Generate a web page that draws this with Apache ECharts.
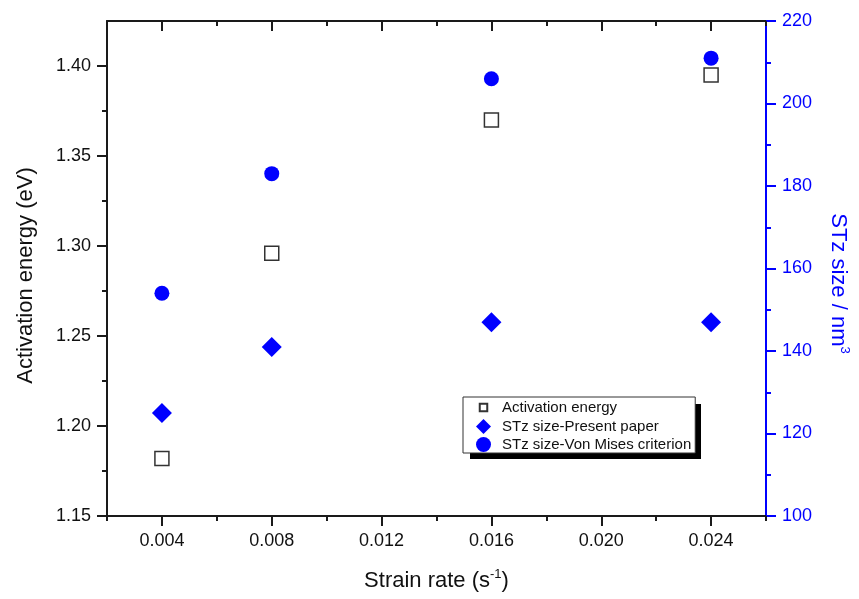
<!DOCTYPE html>
<html>
<head>
<meta charset="utf-8">
<script src="https://cdn.jsdelivr.net/npm/echarts@6/dist/echarts.min.js"></script>
<style>html,body{margin:0;padding:0;background:#fff}#c{width:859px;height:599px}</style>
</head>
<body>
<div id="c"></div>
<script>
// ---- data ----
const strainRate = [0.004, 0.008, 0.016, 0.024];
const activationEnergy = [1.182, 1.296, 1.370, 1.395];
const stzPresent = [125, 141, 147, 147];
const stzVonMises = [154, 183, 206, 211];
const xMajorTicks = [0.004, 0.008, 0.012, 0.016, 0.020, 0.024];
const xMinorTicks = [0.002, 0.006, 0.010, 0.014, 0.018, 0.022, 0.026];
const yLeftMajorTicks = [1.15, 1.20, 1.25, 1.30, 1.35, 1.40];
const yLeftMinorTicks = [1.175, 1.225, 1.275, 1.325, 1.375];
const seriesNames = ['Activation energy', 'STz size-Present paper', 'STz size-Von Mises criterion'];

const FONT = '"Liberation Sans", Arial, sans-serif';
const BLUE = '#0000ff';
const BLACK = '#1a1a1a';

function pairs(xs, ys) { return xs.map((x, i) => [x, ys[i]]); }

const chart = echarts.init(document.getElementById('c'), null, {renderer: 'canvas'});

const baseX = {
  type: 'value', gridIndex: 0, min: 0.002, max: 0.026, interval: 0.002,
  splitLine: {show: false}
};
const squareIcon = 'path://M0,0 M24,24 M6,6 L18,6 L18,18 L6,18 Z';

chart.setOption({
  backgroundColor: '#fff',
  textStyle: {fontFamily: FONT},
  grid: {left: 107, right: 85, top: 21, bottom: 83, containLabel: false},
  graphic: [
    {type: 'rect', left: 470, top: 404, z: 1, silent: true,
     shape: {width: 231, height: 55}, style: {fill: '#000'}}
  ],
  legend: {
    orient: 'vertical',
    left: 463, top: 397, z: 10,
    data: [
      {name: seriesNames[0], icon: squareIcon},
      {name: seriesNames[1], icon: 'diamond'},
      {name: seriesNames[2], icon: 'circle'}
    ],
    itemWidth: 15, itemHeight: 15, itemGap: 3,
    padding: [2, 4, 1, 12],
    backgroundColor: '#fff', borderColor: '#333', borderWidth: 1,
    textStyle: {fontFamily: FONT, fontSize: 15, color: '#111', padding: [0, 0, 0, 6]}
  },
  xAxis: [
    Object.assign({}, baseX, {
      position: 'bottom',
      name: 'Strain rate (s{sup|-1})', nameLocation: 'middle', nameGap: 52,
      nameTextStyle: {fontFamily: FONT, fontSize: 22, color: '#111',
        rich: {sup: {fontFamily: FONT, fontSize: 13, color: '#111', verticalAlign: 'top', padding: [0, 0, 12, 0]}}},
      axisLine: {show: true, onZero: false, lineStyle: {color: BLACK, width: 2}},
      axisTick: {show: true, inside: false, length: 10, customValues: xMajorTicks, lineStyle: {color: BLACK, width: 2}},
      axisLabel: {show: true, customValues: xMajorTicks, margin: 16, fontSize: 18, color: '#111', fontFamily: FONT,
        formatter: v => v.toFixed(3)}
    }),
    Object.assign({}, baseX, {
      position: 'bottom',
      axisLine: {show: false, onZero: false},
      axisTick: {show: true, inside: false, length: 5, customValues: xMinorTicks, lineStyle: {color: BLACK, width: 2}},
      axisLabel: {show: false}
    }),
    Object.assign({}, baseX, {
      position: 'top',
      axisLine: {show: true, onZero: false, lineStyle: {color: BLACK, width: 2}},
      axisTick: {show: true, inside: true, length: 10, customValues: xMajorTicks, lineStyle: {color: BLACK, width: 2}},
      axisLabel: {show: false}
    }),
    Object.assign({}, baseX, {
      position: 'top',
      axisLine: {show: false, onZero: false},
      axisTick: {show: true, inside: true, length: 5, customValues: xMinorTicks, lineStyle: {color: BLACK, width: 2}},
      axisLabel: {show: false}
    })
  ],
  yAxis: [
    {
      type: 'value', position: 'left', min: 1.15, max: 1.425, interval: 0.05,
      name: 'Activation energy (eV)', nameLocation: 'middle', nameGap: 70, nameRotate: 90,
      nameTextStyle: {fontFamily: FONT, fontSize: 22, color: '#111', padding: [0, 14, 0, 0]},
      splitLine: {show: false},
      axisLine: {show: true, onZero: false, lineStyle: {color: BLACK, width: 2}},
      axisTick: {show: true, inside: false, length: 10, customValues: yLeftMajorTicks, lineStyle: {color: BLACK, width: 2}},
      axisLabel: {show: true, customValues: yLeftMajorTicks, margin: 16, fontSize: 18, color: '#111', fontFamily: FONT,
        formatter: v => v.toFixed(2)}
    },
    {
      type: 'value', position: 'right', min: 100, max: 220, interval: 20,
      name: 'STz size / nm{sup|3}', nameLocation: 'middle', nameGap: 60, nameRotate: -90,
      nameTextStyle: {fontFamily: FONT, fontSize: 22, color: BLUE, padding: [0, 0, 0, 30],
        rich: {sup: {fontFamily: FONT, fontSize: 13, color: BLUE, verticalAlign: 'top', padding: [0, 0, 12, 0]}}},
      splitLine: {show: false},
      axisLine: {show: true, onZero: false, lineStyle: {color: BLUE, width: 2}},
      axisTick: {show: true, inside: false, length: 10, lineStyle: {color: BLUE, width: 2}},
      minorTick: {show: true, splitNumber: 2, length: 5, lineStyle: {color: BLUE, width: 2}},
      axisLabel: {show: true, margin: 16, fontSize: 18, color: BLUE, fontFamily: FONT}
    },
    {
      type: 'value', position: 'left', min: 1.15, max: 1.425, interval: 0.05,
      splitLine: {show: false},
      axisLine: {show: false, onZero: false},
      axisTick: {show: true, inside: false, length: 5, customValues: yLeftMinorTicks, lineStyle: {color: BLACK, width: 2}},
      axisLabel: {show: false}
    }
  ],
  series: [
    {
      name: seriesNames[0], type: 'scatter', xAxisIndex: 0, yAxisIndex: 0,
      symbol: 'rect', symbolSize: 14,
      itemStyle: {color: '#fff', borderColor: '#333', borderWidth: 1.5, opacity: 1},
      data: pairs(strainRate, activationEnergy), z: 3
    },
    {
      name: seriesNames[1], type: 'scatter', xAxisIndex: 0, yAxisIndex: 1,
      symbol: 'diamond', symbolSize: 20,
      itemStyle: {color: BLUE, opacity: 1},
      data: pairs(strainRate, stzPresent), z: 4
    },
    {
      name: seriesNames[2], type: 'scatter', xAxisIndex: 0, yAxisIndex: 1,
      symbol: 'circle', symbolSize: 15,
      itemStyle: {color: BLUE, opacity: 1},
      data: pairs(strainRate, stzVonMises), z: 4
    }
  ],
  animation: false
});
</script>
</body>
</html>
